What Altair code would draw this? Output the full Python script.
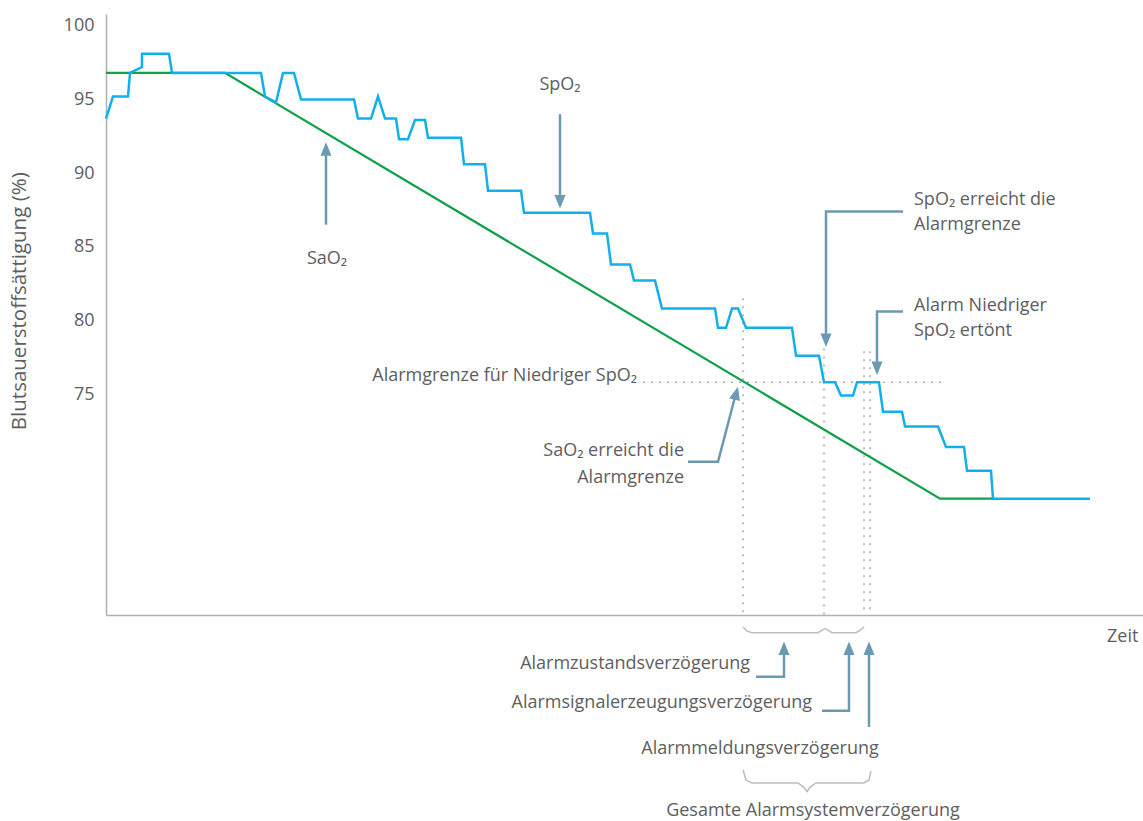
import altair as alt
import pandas as pd

# ---- SpO2 (pulse oximeter reading) ----
spo2_t = [0, 0.7, 2.2, 2.4, 3.6, 3.6, 6.3, 6.6, 15.5, 15.9, 17.0, 17.7, 18.8, 19.5,
          24.8, 25.2, 26.5, 27.2, 27.9, 29.0, 29.3, 30.2, 30.9, 31.9, 32.2, 35.5,
          35.8, 37.9, 38.2, 41.5, 41.8, 48.4, 48.7, 50.1, 50.5, 52.4, 52.8, 54.9,
          55.6, 60.9, 61.2, 62.0, 62.6, 63.2, 64.0, 68.6, 69.0, 71.3, 71.8, 72.9,
          73.5, 74.7, 75.1, 77.3, 77.7, 79.6, 79.9, 83.2, 84.0, 85.8, 86.1, 88.5,
          88.7, 98.4]
spo2_v = [93.7, 95.2, 95.2, 96.8, 97.2, 98.1, 98.1, 96.8, 96.8, 95.2, 94.8, 96.8, 96.8, 95.0,
          95.0, 93.7, 93.7, 95.2, 93.7, 93.7, 92.3, 92.3, 93.6, 93.6, 92.4, 92.4,
          90.6, 90.6, 88.8, 88.8, 87.3, 87.3, 85.9, 85.9, 83.8, 83.8, 82.7, 82.7,
          80.8, 80.8, 79.5, 79.5, 80.8, 80.8, 79.5, 79.5, 77.6, 77.6, 75.8, 75.8,
          74.9, 74.9, 75.8, 75.8, 73.8, 73.8, 72.8, 72.8, 71.4, 71.4, 69.8, 69.8,
          67.9, 67.9]

# ---- SaO2 (arterial saturation) ----
sao2_t = [0, 11.9, 83.4, 88.7]
sao2_v = [96.8, 96.8, 67.9, 67.9]

# ---- alarm limit and event markers ----
alarm_limit = 75.8
limit_x = [53.7, 83.9]
event_t = [63.7, 71.8, 75.8, 76.4]
event_top = [81.5, 78.1, 77.9, 77.9]
y_min, y_max = 60, 100.8
x_min, x_max = 0, 103.7
y_ticks = [75, 80, 85, 90, 95, 100]

# ---- annotation arrows: polyline shafts (tail -> near tip) and tips ----
arrow_id = ["sao2", "sao2", "spo2", "spo2",
            "spo2lim", "spo2lim", "spo2lim",
            "alarm", "alarm", "alarm",
            "saolim", "saolim", "saolim",
            "zust", "zust", "zust",
            "sig", "sig", "sig",
            "meld", "meld"]
arrow_t = [22.0, 22.0, 45.4, 45.4,
           79.7, 72.0, 72.0,
           79.7, 77.1, 77.1,
           58.2, 61.2, 62.9,
           65.0, 67.8, 67.8,
           71.6, 74.3, 74.3,
           76.3, 76.3]
arrow_v = [86.5, 91.4, 94.0, 88.3,
           87.4, 87.4, 78.9,
           80.6, 80.6, 77.0,
           70.4, 70.4, 74.8,
           55.8, 55.8, 57.5,
           53.5, 53.5, 57.5,
           52.4, 57.5]
tip_t = [22.0, 45.4, 72.0, 77.1, 63.2, 67.8, 74.3, 76.3]
tip_v = [92.1, 87.6, 78.2, 76.3, 75.5, 58.2, 58.2, 58.2]
tip_angle = [0, 180, 180, 180, 15, 0, 0, 0]

# ---- braces under the time axis ----
brace_id = ["a"] * 6 + ["b"] * 6 + ["c"] * 11
brace_t = [63.7, 64.1, 64.6, 71.2, 71.7, 71.9,
           71.9, 72.1, 72.6, 75.0, 75.5, 75.8,
           63.7, 64.0, 64.6, 69.2, 69.8, 70.1, 70.4, 71.0, 75.8, 76.3, 76.5]
brace_v = [59.2, 58.9, 58.8, 58.8, 59.0, 59.1,
           59.1, 59.0, 58.8, 58.8, 59.0, 59.2,
           49.5, 48.8, 48.6, 48.6, 48.3, 48.0, 48.3, 48.6, 48.6, 48.8, 49.4]

# ---- labels ----
label_text = ["SaO₂", "SpO₂", "SpO₂ erreicht die", "Alarmgrenze",
              "Alarm Niedriger", "SpO₂ ertönt", "Zeit",
              "Gesamte Alarmsystemverzögerung", "Alarmmeldungsverzögerung"]
label_t = [22.1, 45.4, 80.8, 80.8, 80.8, 80.8, 100.1, 70.7, 65.4]
label_v = [84.2, 96.0, 88.2, 86.5, 81.0, 79.3, 58.5, 46.7, 50.9]
label_align = ["center", "center", "left", "left", "left", "left", "left", "center", "center"]

rlabel_text = ["Alarmgrenze für Niedriger SpO₂", "SaO₂ erreicht die", "Alarmgrenze",
               "Alarmzustandsverzögerung", "Alarmsignalerzeugungsverzögerung"]
rlabel_t = [53.1, 57.8, 57.8, 64.4, 70.6]
rlabel_v = [76.2, 71.1, 69.3, 56.7, 54.0]

y_title = "Blutsauerstoffsättigung (%)"

BLUE = "#12b0ea"
GREEN = "#0fa14a"
ARROW = "#6a9ab2"
TEXT = "#5e5e5e"
AXIS = "#b0b0b0"
FONT = "Open Sans"

xs = alt.Scale(domain=[x_min, x_max], nice=False, zero=False)
ys = alt.Scale(domain=[y_min, y_max], nice=False, zero=False)
x_axis = alt.Axis(title=None, labels=False, ticks=False, grid=False,
                  domainColor=AXIS, domainWidth=1.5)
y_axis = alt.Axis(title=None, values=y_ticks, ticks=False, grid=False,
                  domainColor=AXIS, domainWidth=1.5, labelFont=FONT, labelFontSize=18,
                  labelColor=TEXT, labelPadding=12)


def X(f="t"):
    return alt.X(f"{f}:Q", scale=xs, axis=x_axis)


def Y(f="v"):
    return alt.Y(f"{f}:Q", scale=ys, axis=y_axis)


spo2 = pd.DataFrame({"t": spo2_t, "v": spo2_v, "i": range(len(spo2_t))})
sao2 = pd.DataFrame({"t": sao2_t, "v": sao2_v, "i": range(len(sao2_t))})

limit_rule = alt.Chart(pd.DataFrame({"x1": [limit_x[0]], "x2": [limit_x[1]], "v": [alarm_limit]})).mark_rule(
    color="#aaaaaa", strokeDash=[2, 6], strokeWidth=1.5
).encode(x=X("x1"), x2="x2:Q", y=Y())

event_rules = alt.Chart(pd.DataFrame({"t": event_t, "top": event_top, "bot": [y_min] * len(event_t)})).mark_rule(
    color="#aaaaaa", strokeDash=[2, 6], strokeWidth=1.5
).encode(x=X(), y=Y("top"), y2="bot:Q")

sao2_line = alt.Chart(sao2).mark_line(color=GREEN, strokeWidth=2.2).encode(
    x=X(), y=Y(), order="i:O")
spo2_line = alt.Chart(spo2).mark_line(color=BLUE, strokeWidth=2.5).encode(
    x=X(), y=Y(), order="i:O")

arrows = alt.Chart(pd.DataFrame({"id": arrow_id, "t": arrow_t, "v": arrow_v,
                                 "i": range(len(arrow_id))})).mark_line(
    color=ARROW, strokeWidth=2.5).encode(x=X(), y=Y(), detail="id:N", order="i:O")

tips = alt.Chart(pd.DataFrame({"t": tip_t, "v": tip_v, "a": tip_angle})).mark_point(
    shape="M0,0L0.9,2.2L-0.9,2.2Z", filled=True, color=ARROW, opacity=1, size=150, strokeWidth=0
).encode(x=X(), y=Y(), angle=alt.Angle("a:Q", scale=None))

braces = alt.Chart(pd.DataFrame({"id": brace_id, "t": brace_t, "v": brace_v,
                                 "i": range(len(brace_id))})).mark_line(
    color="#bdbdbd", strokeWidth=1.5).encode(x=X(), y=Y(), detail="id:N", order="i:O")

labels_df = pd.DataFrame({"s": label_text, "t": label_t, "v": label_v, "al": label_align})
label_layers = []
for al in ["left", "center"]:
    label_layers.append(alt.Chart(labels_df[labels_df["al"] == al]).mark_text(
        font=FONT, fontSize=18, color=TEXT, baseline="middle", align=al
    ).encode(x=X(), y=Y(), text="s:N"))

rlabels = alt.Chart(pd.DataFrame({"s": rlabel_text, "t": rlabel_t, "v": rlabel_v})).mark_text(
    font=FONT, fontSize=18, color=TEXT, baseline="middle", align="right"
).encode(x=X(), y=Y(), text="s:N")

ytitle = alt.Chart(pd.DataFrame({"s": [y_title], "t": [-8.6], "v": [81.3]})).mark_text(
    font=FONT, fontSize=20.5, color=TEXT, baseline="middle", align="center", angle=270
).encode(x=X(), y=Y(), text="s:N")

chart = alt.layer(
    limit_rule, event_rules, sao2_line, spo2_line, arrows, tips, braces,
    *label_layers, rlabels, ytitle
).properties(
    width=1037, height=601,
    padding={"left": 106, "top": 14, "right": 0, "bottom": 206},
    autosize=alt.AutoSizeParams(type="none"),
    background="white",
).configure_view(stroke=None)

chart.save("out.html", embed_options={"renderer": "svg", "actions": False})
